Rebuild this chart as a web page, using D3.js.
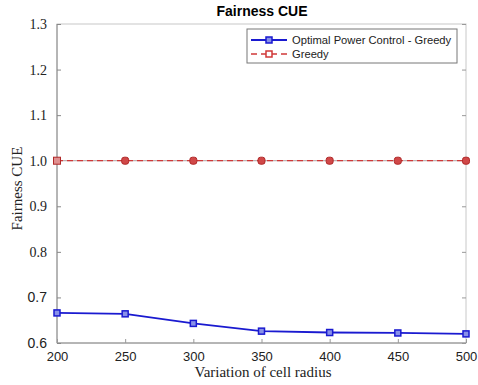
<!DOCTYPE html>
<html><head><meta charset="utf-8">
<script src="https://cdn.jsdelivr.net/npm/d3@7"></script>
<style>body{margin:0;background:#fff}svg{display:block}</style>
</head><body>
<svg id="c" width="478" height="385"></svg>
<script>
const radius = [200, 250, 300, 350, 400, 450, 500];
const optimalGreedy = [0.666, 0.664, 0.643, 0.626, 0.623, 0.622, 0.620];
const greedy = [1.0, 1.0, 1.0, 1.0, 1.0, 1.0, 1.0];
const yTicks = [0.6, 0.7, 0.8, 0.9, 1.0, 1.1, 1.2, 1.3];
const xTicks = [200, 250, 300, 350, 400, 450, 500];
const seriesNames = ["Optimal Power Control - Greedy", "Greedy"];

const svg = d3.select("#c");
const L = 57, R = 466, T = 24, B = 343;
const x = d3.scaleLinear().domain([200, 500]).range([L, R]);
const y = d3.scaleLinear().domain([0.6, 1.3]).range([B, T]);

// frame
svg.append("rect").attr("x", L).attr("y", T).attr("width", R - L).attr("height", B - T)
  .attr("fill", "none").attr("stroke", "#c8c8c8").attr("stroke-width", 1);
svg.append("line").attr("x1", L).attr("x2", L).attr("y1", T).attr("y2", B).attr("stroke", "#888");
svg.append("line").attr("x1", L).attr("x2", R).attr("y1", B).attr("y2", B).attr("stroke", "#888");

// axes
const yAx = svg.append("g").attr("transform", `translate(${L},0)`)
  .call(d3.axisLeft(y).tickValues(yTicks).tickFormat(d3.format(".1f")).tickSize(-4).tickPadding(10));
yAx.select(".domain").remove();
yAx.selectAll("line").attr("stroke", "#888");
yAx.selectAll("text").attr("font-family", d => d >= 0.8 ? "Liberation Serif, serif" : "Liberation Sans, Arial, sans-serif")
  .attr("font-size", 14).attr("fill", "#222");

const yAxR = svg.append("g").attr("transform", `translate(${R},0)`)
  .call(d3.axisRight(y).tickValues(yTicks).tickFormat("").tickSize(-4));
yAxR.select(".domain").remove();
yAxR.selectAll("line").attr("stroke", "#999");

const xAx = svg.append("g").attr("transform", `translate(0,${B})`)
  .call(d3.axisBottom(x).tickValues(xTicks).tickSize(-4).tickPadding(9));
xAx.select(".domain").remove();
xAx.selectAll("line").attr("stroke", "#999");
xAx.selectAll("text").attr("font-family", "Liberation Sans, Arial, sans-serif").attr("font-size", 13).attr("fill", "#222");

// title & labels
svg.append("text").attr("x", 262).attr("y", 16).attr("text-anchor", "middle")
  .attr("font-family", "Liberation Sans, Arial, sans-serif").attr("font-weight", "bold").attr("font-size", 14)
  .text("Fairness CUE");
svg.append("text").attr("x", 263).attr("y", 377).attr("text-anchor", "middle")
  .attr("font-family", "Liberation Serif, serif").attr("font-size", 15).attr("fill", "#222")
  .text("Variation of cell radius");
svg.append("text").attr("transform", `translate(22,${(T + B) / 2 + 5}) rotate(-90)`).attr("text-anchor", "middle")
  .attr("font-family", "Liberation Serif, serif").attr("font-size", 15).attr("fill", "#222")
  .text("Fairness CUE");

// greedy series
const line = d3.line().x((d, i) => x(radius[i])).y(d => y(d));
svg.append("path").datum(greedy).attr("d", line).attr("fill", "none")
  .attr("stroke", "#b0a0a0").attr("stroke-width", 1);
svg.append("path").datum(greedy).attr("d", line).attr("fill", "none")
  .attr("stroke", "#d03838").attr("stroke-width", 1.2).attr("stroke-dasharray", "6,4");
svg.selectAll(".gm").data(greedy).enter().append("rect")
  .attr("x", (d, i) => x(radius[i]) - 3.5).attr("y", d => y(d) - 3.5).attr("width", 7).attr("height", 7)
  .attr("rx", (d, i) => i === 0 ? 0 : 2.5)
  .attr("fill", (d, i) => i === 0 ? "#e09090" : "#d04848").attr("stroke", "#b02828").attr("stroke-width", 1);

// optimal series
svg.append("path").datum(optimalGreedy).attr("d", line).attr("fill", "none")
  .attr("stroke", "#1a1ad0").attr("stroke-width", 1.8);
svg.selectAll(".om").data(optimalGreedy).enter().append("rect")
  .attr("x", (d, i) => x(radius[i]) - 3).attr("y", d => y(d) - 3).attr("width", 6).attr("height", 6)
  .attr("fill", "#8890e8").attr("stroke", "#1a1ad0").attr("stroke-width", 1.5);

// legend
const lg = svg.append("g");
lg.append("rect").attr("x", 247).attr("y", 29).attr("width", 210).attr("height", 34)
  .attr("fill", "#fff").attr("stroke", "#777").attr("stroke-width", 1);
const rows = [
  {name: seriesNames[0], y: 40, stroke: "#1a1ad0", dash: null, fill: "#8890e8"},
  {name: seriesNames[1], y: 54, stroke: "#d03838", dash: "6,4", fill: "#fff"}
];
rows.forEach(r => {
  lg.append("line").attr("x1", 251).attr("x2", 287).attr("y1", r.y).attr("y2", r.y)
    .attr("stroke", r.stroke).attr("stroke-width", r.dash ? 1.4 : 1.8).attr("stroke-dasharray", r.dash);
  lg.append("rect").attr("x", 266).attr("y", r.y - 3).attr("width", 6).attr("height", 6)
    .attr("fill", r.fill).attr("stroke", r.stroke).attr("stroke-width", 1.5);
  lg.append("text").attr("x", 292).attr("y", r.y + 4)
    .attr("font-family", "Liberation Sans, Arial, sans-serif").attr("font-size", 11.2).attr("fill", "#222")
    .text(r.name);
});
</script>
</body></html>
